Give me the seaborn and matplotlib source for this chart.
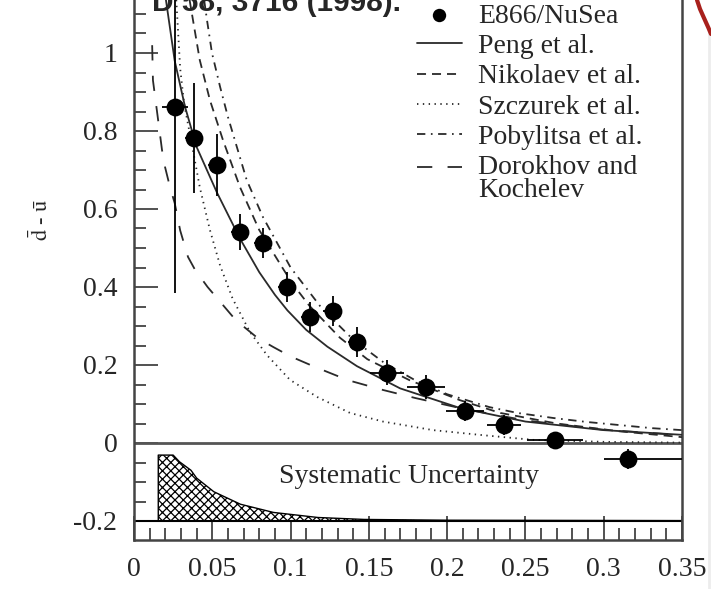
import numpy as np
import pandas as pd
import matplotlib
matplotlib.use("Agg")
import matplotlib.pyplot as plt
import seaborn as sns
from matplotlib.lines import Line2D

# ---------------- data ----------------
x_data = [0.0262, 0.0383, 0.053, 0.0677, 0.0824, 0.0977, 0.1124, 0.127, 0.1424,
          0.1616, 0.1865, 0.2114, 0.2363, 0.269, 0.3155]
y_data = [0.862, 0.782, 0.713, 0.541, 0.513, 0.400, 0.323, 0.338, 0.259,
          0.180, 0.144, 0.082, 0.046, 0.008, -0.041]
y_err = [0.477, 0.14, 0.08, 0.045, 0.038, 0.038, 0.038, 0.038, 0.038,
         0.032, 0.03, 0.025, 0.025, 0.02, 0.025]
x_err_lo = [0.008, 0.006, 0.006, 0.006, 0.006, 0.006, 0.006, 0.006, 0.006,
            0.011, 0.012, 0.012, 0.011, 0.018, 0.0155]
x_err_hi = [0.008, 0.006, 0.006, 0.006, 0.006, 0.006, 0.006, 0.006, 0.006,
            0.011, 0.012, 0.012, 0.011, 0.018, 0.0345]

peng_x = [0.0204, 0.026, 0.0326, 0.040, 0.053, 0.0677, 0.080, 0.090, 0.098,
          0.110, 0.1235, 0.1424, 0.170, 0.208, 0.25, 0.30, 0.35]
peng_y = [1.136, 0.98, 0.862, 0.759, 0.642, 0.524, 0.438, 0.38, 0.34,
          0.29, 0.247, 0.197, 0.14, 0.09, 0.055, 0.033, 0.021]

nik_x = [0.0355, 0.042, 0.0485, 0.0568, 0.0677, 0.080, 0.095, 0.1015, 0.112,
         0.1315, 0.149, 0.176, 0.208, 0.234, 0.27, 0.31, 0.35]
nik_y = [1.136, 0.982, 0.879, 0.777, 0.656, 0.546, 0.448, 0.407, 0.352,
         0.27, 0.215, 0.161, 0.110, 0.077, 0.05, 0.03, 0.015]

szc_x = [0.027, 0.0295, 0.032, 0.037, 0.042, 0.0485, 0.055, 0.063, 0.074,
         0.085, 0.0996, 0.117, 0.138, 0.159, 0.191, 0.223, 0.255, 0.30, 0.35]
szc_y = [1.136, 0.96, 0.87, 0.765, 0.656, 0.546, 0.455, 0.37, 0.285,
         0.225, 0.162, 0.118, 0.077, 0.055, 0.033, 0.02, 0.008, 0.003, 0.001]

pob_x = [0.0448, 0.0466, 0.0498, 0.055, 0.060, 0.072, 0.0824, 0.1, 0.12, 0.14,
         0.16, 0.18, 0.2, 0.227, 0.245, 0.268, 0.289, 0.31, 0.331, 0.35]
pob_y = [1.136, 1.085, 1.0, 0.913, 0.836, 0.674, 0.579, 0.45, 0.345, 0.265,
         0.205, 0.16, 0.125, 0.092, 0.077, 0.064, 0.054, 0.046, 0.038, 0.033]

dk_x = [0.0116, 0.0121, 0.0147, 0.0179, 0.0198, 0.023, 0.026, 0.0295, 0.0345,
        0.039, 0.047, 0.054, 0.065, 0.079, 0.089, 0.1, 0.1156, 0.1367, 0.159,
        0.18, 0.21, 0.25, 0.3, 0.35]
dk_y = [1.02, 0.93, 0.85, 0.751, 0.708, 0.656, 0.615, 0.545, 0.477,
        0.444, 0.40, 0.367, 0.315, 0.269, 0.246, 0.222, 0.195, 0.161, 0.136,
        0.115, 0.088, 0.058, 0.034, 0.02]

sys_x = [0.0155, 0.025, 0.029, 0.0364, 0.040, 0.051, 0.068, 0.089, 0.1175,
         0.147, 0.2, 0.35]
sys_y = [-0.031, -0.031, -0.048, -0.07, -0.09, -0.125, -0.157, -0.178, -0.191,
         -0.196, -0.198, -0.199]

y_ticks = [-0.2, 0, 0.2, 0.4, 0.6, 0.8, 1.0]
y_tick_labels = ["-0.2", "0", "0.2", "0.4", "0.6", "0.8", "1"]
x_ticks = [0, 0.05, 0.1, 0.15, 0.2, 0.25, 0.3, 0.35]
x_tick_labels = ["0", "0.05", "0.1", "0.15", "0.2", "0.25", "0.3", "0.35"]

# ---------------- style ----------------
sns.set_style("ticks")
plt.rcParams["font.family"] = ["Liberation Serif", "DejaVu Serif"]
plt.rcParams["mathtext.fontset"] = "stix"
plt.rcParams["lines.scale_dashes"] = False
plt.rcParams["hatch.linewidth"] = 0.9

W, H = 711, 589
fig = plt.figure(figsize=(W / 100, H / 100), dpi=100)
ax = fig.add_axes([134 / W, 1 - 540 / H, (682 - 134) / W, 540 / H])

LC = "#2a2a2a"
LW = 1.3
FS = 20

curves = [
    ("Peng et al.", peng_x, peng_y, "-"),
    ("Nikolaev et al.", nik_x, nik_y, (0, (6.5, 4.3))),
    ("Szczurek et al.", szc_x, szc_y, (0, (1.0, 3.2))),
    ("Pobylitsa et al.", pob_x, pob_y, (0, (6.0, 4.0, 1.2, 4.0))),
    ("Dorokhov and\nKochelev", dk_x, dk_y, (0, (11, 11))),
]
for name, xs, ys, ls in curves:
    df = pd.DataFrame({"x": xs, "y": ys})
    sns.lineplot(data=df, x="x", y="y", ax=ax, color=LC, lw=LW, linestyle=ls,
                 estimator=None, sort=False, label=name, zorder=3)

# systematic uncertainty band
ax.fill_between(sys_x, -0.2, sys_y, facecolor="white", edgecolor="black",
                hatch="xxxx", lw=1.0, zorder=2)

# zero line and -0.2 line
ax.axhline(0, color="#555555", lw=2.0, zorder=1)
ax.axhline(-0.2, color="black", lw=1.5, zorder=2)

# data points
ax.errorbar(x_data, y_data, yerr=y_err, xerr=[x_err_lo, x_err_hi], fmt="none",
            ecolor="black", elinewidth=1.3, capsize=0, zorder=4)
dpts = pd.DataFrame({"x": x_data, "y": y_data})
sns.scatterplot(data=dpts, x="x", y="y", ax=ax, s=165, color="black",
                edgecolor="black", linewidth=0, zorder=5, label="E866/NuSea")

ax.text(0.1756, -0.085, "Systematic Uncertainty", ha="center", va="center",
        fontsize=FS)

# axes
ax.set_xlim(0, 0.35)
ax.set_ylim(-(540 - 443) / 390, 443 / 390)
ax.set_xticks(x_ticks)
ax.set_xticklabels(x_tick_labels)
ax.set_yticks(y_ticks)
ax.set_yticklabels(y_tick_labels)
ax.set_xticks(np.arange(0.0, 0.351, 0.01), minor=True)
ax.set_yticks(np.arange(-0.15, 1.13, 0.05), minor=True)
ax.tick_params(axis="both", which="major", direction="in", length=17,
               width=1.2, color="#333333", labelsize=FS, pad=12)
ax.tick_params(axis="both", which="minor", direction="in", length=8.5,
               width=1.2, color="#333333")
for s in ["left", "bottom", "right"]:
    ax.spines[s].set_color("#444444")
    ax.spines[s].set_linewidth(1.8)
ax.spines["top"].set_visible(False)
ax.set_xlabel("")
ax.set_ylabel(r"$\mathrm{\bar{d}}$ - $\mathrm{\bar{u}}$", fontsize=16)
ax.yaxis.set_label_coords(-0.148, 0.593)

# legend
handles, labels = ax.get_legend_handles_labels()
order = ["E866/NuSea", "Peng et al.", "Nikolaev et al.", "Szczurek et al.",
         "Pobylitsa et al.", "Dorokhov and\nKochelev"]
hmap = dict(zip(labels, handles))
leg = ax.legend([hmap[k] for k in order], order, loc="upper left",
                bbox_to_anchor=((417 - 134) / 548, 0.994), frameon=False,
                fontsize=FS, handlelength=1.62, handletextpad=0.58,
                labelspacing=0.175, borderpad=0, borderaxespad=0,
                markerscale=0.75)
for t in leg.get_texts():
    t.set_linespacing(0.9)
# put the Dorokhov-Kochelev key next to the first line of its label
dk_handle = leg.legend_handles[-1]
dk_handle.set_ydata(np.asarray(dk_handle.get_ydata()) + 8.5)

fig.text(152 / W, 1 - 11 / H, "D 58, 3716 (1998).", fontsize=21.5,
         fontweight="bold", family="Liberation Sans", ha="left", va="baseline")

# slide background decoration at the right edge
fig.add_artist(Line2D([708.5 / W, 708.5 / W], [0, 1 - 30 / H], color="#ececec",
                      lw=2.0, transform=fig.transFigure))
fig.add_artist(Line2D([697 / W, 700 / W, 704 / W, 708.5 / W, 711 / W],
                      [1.0, 1 - 9 / H, 1 - 18 / H, 1 - 28 / H, 1 - 34 / H],
                      color="#a8201c", lw=3.0, transform=fig.transFigure))

fig.savefig("out.png", dpi=100)
